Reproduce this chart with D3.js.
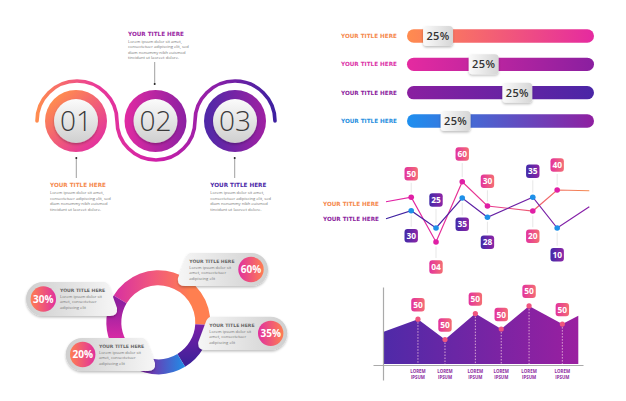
<!DOCTYPE html>
<html>
<head>
<meta charset="utf-8">
<script src="https://cdn.jsdelivr.net/npm/d3@7"></script>
<style>
  html, body { margin: 0; padding: 0; background: #fff; }
  svg { display: block; }
  text { font-family: "Open Sans", sans-serif; }
  .title { font-family: "DejaVu Sans", sans-serif; font-weight: 700; font-size: 5.7px; }
  .body { font-size: 4.1px; fill: #777; }
</style>
</head>
<body>
<svg id="svg" width="626" height="401"></svg>
<script>
// steps
var stepLabels = ["01", "02", "03"];
var loremLines = ["Lorem ipsum dolor sit amet,", "consectetuer adipiscing elit, sed", "diam nonummy nibh euismod", "tincidunt ut laoreet dolore."];

// sliders
var barTitles = ["YOUR TITLE HERE", "YOUR TITLE HERE", "YOUR TITLE HERE", "YOUR TITLE HERE"];
var barLabels = ["25%", "25%", "25%", "25%"];
var barKnobs = [16.6, 41, 59, 26];

// line chart
var lineX = [0, 12.4, 24.6, 37.5, 49.9, 72.2, 84.2, 100];
var pinkLevels = [58.6, 62.2, 26.4, 74.6, 55.2, 51.2, 68, 67.4];
var purpleLevels = [45, 51.4, 37.6, 61.6, 46.2, 62.2, 37.6, 54.6];
var pinkLabels = ["50", "04", "60", "30", "20", "40"];
var pinkBadges = [81, 6.4, 96.8, 75, 31, 88];
var purpleLabels = ["30", "25", "35", "28", "35", "10"];
var purpleBadges = [31.4, 60, 40.6, 26.2, 83, 16.2];

// area chart
var areaX = [0, 17.6, 31.5, 47.1, 60.4, 74.7, 91.8, 100];
var areaLevels = [46, 64, 35, 72, 50, 83, 57, 69];
var areaLabels = ["50", "50", "50", "50", "50", "50"];

// donut
var donutSpans = [152, 56, 46, 106];
var cardLabels = ["60%", "35%", "20%", "30%"];
var cardLines = ["Lorem ipsum dolor sit", "amet, consectetuer", "adipiscing elit"];

var svg = d3.select("#svg"),
  defs = svg.append("defs");

function gradient(id, stops, x1, y1, x2, y2) {
  var g = defs.append("linearGradient").attr("id", id)
    .attr("gradientUnits", "userSpaceOnUse")
    .attr("x1", x1).attr("y1", y1).attr("x2", x2).attr("y2", y2);
  stops.forEach(function (c, i) {
    g.append("stop").attr("offset", i / (stops.length - 1)).attr("stop-color", c);
  });
  return "url(#" + id + ")";
}

var shadow = defs.append("filter").attr("id", "shadow")
  .attr("x", "-30%").attr("y", "-30%").attr("width", "160%").attr("height", "170%");
shadow.append("feDropShadow").attr("dx", 0).attr("dy", 1.5).attr("stdDeviation", 1.3)
  .attr("flood-color", "#000").attr("flood-opacity", 0.25);

function textBlock(x, y, color, lines, step) {
  svg.append("text").attr("class", "title").attr("x", x).attr("y", y)
    .attr("fill", color).text("YOUR TITLE HERE");
  lines.forEach(function (l, i) {
    svg.append("text").attr("class", "body").attr("x", x).attr("y", y + 7.2 + i * step).text(l);
  });
}

function badge(cx, cy, label, fill) {
  svg.append("rect").attr("x", cx - 6.7).attr("y", cy - 6.7).attr("width", 13.4).attr("height", 13.4)
    .attr("rx", 3).attr("fill", fill);
  svg.append("text").attr("x", cx).attr("y", cy + 3).attr("text-anchor", "middle")
    .attr("font-size", 8.4).attr("font-weight", 700).attr("fill", "#fff").text(label);
}

function connector(x, y0, y1, color) {
  svg.append("line").attr("x1", x).attr("x2", x).attr("y1", y0).attr("y2", y1)
    .attr("stroke", color).attr("stroke-width", 0.7);
}

// ---- steps ----
var stepX = d3.scalePoint().domain(stepLabels).range([76, 235]);
var stepY = 121;
var stepFills = [
  gradient("s0", ["#ff8c4f", "#e2309f"], 55, 98, 98, 146),
  gradient("s1", ["#e02aa2", "#8b20a2"], 125, 121, 187, 121),
  gradient("s2", ["#4d28a8", "#9f20a2"], 204, 121, 266, 121)
];
stepLabels.forEach(function (s, i) {
  var x = stepX(s);
  svg.append("circle").attr("cx", x).attr("cy", stepY).attr("r", 31).attr("fill", stepFills[i]);
  svg.append("circle").attr("cx", x).attr("cy", stepY).attr("r", 22)
    .attr("fill", gradient("d" + i, ["#fbfbfb", "#cfcfcf"], x, stepY - 22, x, stepY + 22))
    .attr("filter", "url(#shadow)");
  svg.append("text").attr("x", x).attr("y", stepY + 10).attr("text-anchor", "middle")
    .attr("font-family", "Lato").attr("font-size", 28).attr("font-weight", 300)
    .attr("fill", "#3a3a3a").text(s);
});

// the ribbon weaving around the three circles
var ribbon = d3.path();
ribbon.moveTo(37, stepY);
ribbon.arc(77, stepY, 40, Math.PI, 0, false);
ribbon.arc(156, stepY, 39, Math.PI, 0, true);
ribbon.arc(235, stepY, 40, Math.PI, 0, false);
svg.append("path").attr("d", ribbon.toString()).attr("fill", "none")
  .attr("stroke-width", 3.6).attr("stroke-linecap", "round")
  .attr("stroke", gradient("rib", ["#ff8c4f", "#ea3a98", "#d01fa8", "#8a20a8", "#3d20a0"], 37, 0, 275, 0));

connector(154.7, 62, 84, "#777");
connector(76.3, 158, 178, "#777");
connector(234.7, 158, 178, "#777");
[[154.7, 84], [76.3, 158], [234.7, 158]].forEach(function (d) {
  svg.append("circle").attr("cx", d[0]).attr("cy", d[1]).attr("r", 1).attr("fill", "#222");
});
textBlock(128, 35.5, "#9b2aa4", loremLines, 5.55);
textBlock(50, 187, "#f58a4f", loremLines, 5.55);
textBlock(210.3, 187, "#4d2aa8", loremLines, 5.55);

// ---- sliders ----
var barX = d3.scaleLinear().domain([0, 100]).range([407, 594]);
var barY = d3.scalePoint().domain(d3.range(barTitles.length)).range([36, 121]);
var barColors = ["#f58a4f", "#dc35a8", "#8d1fa0", "#2a90e0"];
var barStops = [["#ff8c4f", "#e52aa0"], ["#e52aa0", "#8a1fa0"], ["#8a1fa0", "#4a26a6"], ["#1e90f0", "#8f1fa0"]];
barTitles.forEach(function (t, i) {
  var y = barY(i), x = barX(barKnobs[i]);
  svg.append("text").attr("class", "title").attr("x", 397).attr("y", y + 2)
    .attr("text-anchor", "end").attr("fill", barColors[i]).text(t);
  svg.append("rect").attr("x", barX(0)).attr("y", y - 6.7)
    .attr("width", barX(100) - barX(0)).attr("height", 13.4).attr("rx", 6.7)
    .attr("fill", gradient("b" + i, barStops[i], barX(0), 0, barX(100), 0));
  svg.append("rect").attr("x", x - 15).attr("y", y - 10).attr("width", 30).attr("height", 20).attr("rx", 4)
    .attr("fill", gradient("k" + i, ["#fafafa", "#d6d6d6"], x - 15, 0, x + 15, 0))
    .attr("filter", "url(#shadow)");
  svg.append("text").attr("x", x).attr("y", y + 4).attr("text-anchor", "middle")
    .attr("font-size", 11).attr("font-weight", 600).attr("letter-spacing", 0.4)
    .attr("fill", "#333").text(barLabels[i]);
});

// ---- line chart ----
var lx = d3.scaleLinear().domain([0, 100]).range([386, 589.3]);
var ly = d3.scaleLinear().domain([0, 100]).range([275, 150]);
var line = d3.line().x(function (d) { return lx(d[0]); }).y(function (d) { return ly(d[1]); });

function series(levels, stroke, dot, labels, badges, fill) {
  var pts = d3.zip(lineX, levels);
  pts.slice(1, 7).forEach(function (p, i) {
    var from = ly(p[1]), to = ly(badges[i]);
    var dir = to < from ? -1 : 1;
    connector(lx(p[0]), from + dir * 4.5, to - dir * 9, "#ddd");
  });
  svg.append("path").attr("d", line(pts)).attr("fill", "none").attr("stroke", stroke).attr("stroke-width", 1.2);
  svg.selectAll(null).data(pts.slice(1, 7)).enter().append("circle")
    .attr("cx", function (d) { return lx(d[0]); })
    .attr("cy", function (d) { return ly(d[1]); })
    .attr("r", 2.8).attr("fill", dot);
  labels.forEach(function (l, i) {
    badge(lx(lineX[i + 1]), ly(badges[i]), l, fill(i));
  });
}

var purpleBadgeFill = [];
purpleLabels.forEach(function (l, i) {
  var x = lx(lineX[i + 1]);
  purpleBadgeFill.push(gradient("bq" + i, ["#3f2aa8", "#8f25a6"], x - 7, 0, x + 7, 0));
});
var pinkFill = [];
pinkLabels.forEach(function (l, i) {
  var x = lx(lineX[i + 1]);
  pinkFill.push(gradient("bo" + i, ["#e2319e", "#f46f72"], x - 7, 0, x + 7, 0));
});
series(pinkLevels, gradient("lp", ["#e01fa5", "#e8388f", "#f58a50"], 386, 0, 589, 0), "#e01fa5",
  pinkLabels, pinkBadges, function (i) { return pinkFill[i]; });
series(purpleLevels, gradient("lq", ["#3a20a0", "#8a20a8"], 386, 0, 589, 0), "#1e90e8",
  purpleLabels, purpleBadges, function (i) { return purpleBadgeFill[i]; });

svg.append("text").attr("class", "title").attr("x", 379).attr("y", 205.5)
  .attr("text-anchor", "end").attr("fill", "#f58a4f").text("YOUR TITLE HERE");
svg.append("text").attr("class", "title").attr("x", 379).attr("y", 221)
  .attr("text-anchor", "end").attr("fill", "#8d1fa0").text("YOUR TITLE HERE");

// ---- area chart ----
var ax = d3.scaleLinear().domain([0, 100]).range([383.7, 578.3]);
var ay = d3.scaleLinear().domain([0, 100]).range([364, 294]);
var area = d3.area()
  .x(function (d) { return ax(d[0]); })
  .y0(ay(0))
  .y1(function (d) { return ay(d[1]); });
var areaPts = d3.zip(areaX, areaLevels);
svg.append("path").attr("d", area(areaPts))
  .attr("fill", gradient("ar", ["#4f2aa8", "#9a1fa0"], 384, 0, 578, 0));

// axes, ticks hidden, only the grey rules are kept
svg.append("g").attr("transform", "translate(0,365)")
  .call(d3.axisBottom(d3.scaleLinear().domain([0, 1]).range([373, 583])).tickValues([]).tickSize(0));
svg.append("g").attr("transform", "translate(383,0)")
  .call(d3.axisLeft(d3.scaleLinear().domain([0, 1]).range([380, 287])).tickValues([]).tickSize(0));
svg.selectAll(".domain").attr("stroke", "#aaa").attr("stroke-width", 1.2);

areaPts.slice(1, 7).forEach(function (p, i) {
  var x = ax(p[0]), y = ay(p[1]);
  svg.append("line").attr("x1", x).attr("x2", x).attr("y1", y).attr("y2", ay(0))
    .attr("stroke", "#f3c6e0").attr("stroke-width", 0.8).attr("stroke-dasharray", "1.5,1.5");
  svg.append("circle").attr("cx", x).attr("cy", y).attr("r", 2.6).attr("fill", "#f0557f");
  badge(x, y - 14.5, areaLabels[i], gradient("ab" + i, ["#e2319e", "#f46f72"], x - 7, 0, x + 7, 0));
  ["LOREM", "IPSUM"].forEach(function (w, j) {
    svg.append("text").attr("x", x).attr("y", 372.8 + j * 6.2).attr("text-anchor", "middle")
      .attr("font-family", "DejaVu Sans").attr("font-weight", 700).attr("font-size", 4.4)
      .attr("fill", "#8d2aa0").text(w);
  });
});

// ---- donut ----
var dcx = 158.3, dcy = 322.3;
var pie = d3.pie().sort(null).value(function (d) { return d; })
  .startAngle(-59 * Math.PI / 180).endAngle(301 * Math.PI / 180);
var arc = d3.arc().innerRadius(37).outerRadius(52);
// gradient coords are relative to the donut centre because the group is translated
var donutFills = [
  gradient("n0", ["#d62fa2", "#f0567f", "#ff7f50"], -46, 0, 32, 0),
  gradient("n1", ["#7a20a8", "#3f2099"], 0, 3, 0, 40),
  gradient("n2", ["#7a2aa8", "#1e8fe8"], -13, 0, 27, 0),
  gradient("n3", ["#8f1fa0", "#d82aa5", "#7020a8"], 0, -20, 0, 53)
];
svg.append("g").attr("transform", "translate(" + dcx + "," + dcy + ")")
  .selectAll("path").data(pie(donutSpans)).enter().append("path")
  .attr("d", arc)
  .attr("fill", function (d, i) { return donutFills[i]; });

function card(x0, x1, y0, y1, circleLeft, label, tx, cx, id) {
  var r = (y1 - y0) / 2, d;
  if (circleLeft) {
    d = "M" + (x0 + r) + "," + y0 + "L" + (x1 - 13) + "," + y0 + "Q" + (x1 - 10) + "," + y0 + " " + (x1 - 8) + "," + (y0 + 4) +
      "L" + x1 + "," + (y1 - 8) + "Q" + (x1 + 1) + "," + y1 + " " + (x1 - 7) + "," + y1 +
      "L" + (x0 + r) + "," + y1 + "A" + r + "," + r + " 0 0 1 " + (x0 + r) + "," + y0 + "Z";
  } else {
    d = "M" + (x1 - r) + "," + y0 + "L" + (x0 + 13) + "," + y0 + "Q" + (x0 + 10) + "," + y0 + " " + (x0 + 8) + "," + (y0 + 4) +
      "L" + x0 + "," + (y1 - 8) + "Q" + (x0 - 1) + "," + y1 + " " + (x0 + 7) + "," + y1 +
      "L" + (x1 - r) + "," + y1 + "A" + r + "," + r + " 0 0 0 " + (x1 - r) + "," + y0 + "Z";
  }
  var stops = circleLeft ? ["#cfcfcf", "#f6f6f6"] : ["#f6f6f6", "#cfcfcf"];
  svg.append("path").attr("d", d).attr("fill", gradient("c" + id, stops, x0, 0, x1, 0))
    .attr("filter", "url(#shadow)");
  var cy = (y0 + y1) / 2;
  svg.append("circle").attr("cx", cx).attr("cy", cy).attr("r", 12.7)
    .attr("fill", gradient("cc" + id, circleLeft ? ["#ff7f50", "#e0309f"] : ["#e0309f", "#ff7f50"], cx - 13, 0, cx + 13, 0));
  svg.append("text").attr("x", cx).attr("y", cy + 3.6).attr("text-anchor", "middle")
    .attr("font-size", 10).attr("font-weight", 700).attr("fill", "#fff").text(label);
  svg.append("text").attr("class", "title").attr("x", tx).attr("y", y0 + 10)
    .style("font-size", "4.6px").attr("fill", "#666").text("YOUR TITLE HERE");
  cardLines.forEach(function (l, i) {
    svg.append("text").attr("class", "body").attr("x", tx).attr("y", y0 + 15.8 + i * 5.6).text(l);
  });
}
card(178, 268, 253, 286, false, cardLabels[0], 189.3, 251, 0);
card(198.3, 287.3, 316.7, 350, false, cardLabels[1], 209.3, 270.7, 1);
card(65.7, 155, 338, 371, true, cardLabels[2], 99, 82.7, 2);
card(26, 117, 282, 316, true, cardLabels[3], 60, 43.3, 3);
</script>
</body>
</html>
